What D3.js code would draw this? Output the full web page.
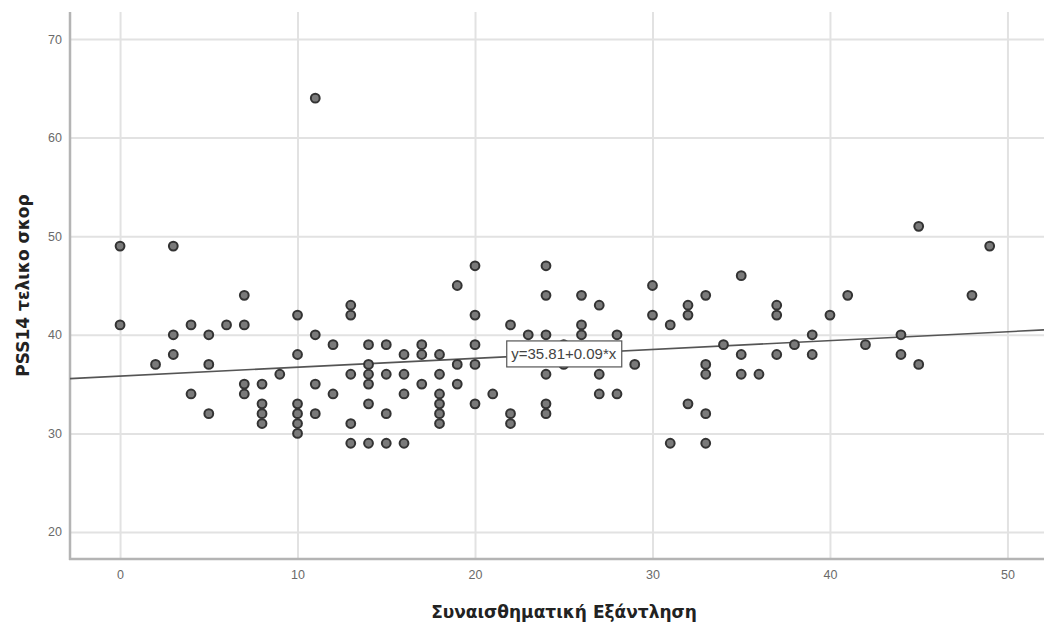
<!DOCTYPE html>
<html>
<head>
<meta charset="utf-8">
<script src="https://cdn.jsdelivr.net/npm/d3@7"></script>
<style>
  body { margin: 0; background: #fff; }
  svg { display: block; font-family: Arial, "Liberation Sans", sans-serif; }
</style>
</head>
<body>
<div id="chart"></div>
<script>
// Συναισθηματική Εξάντληση (x) vs PSS14 (y), one entry per respondent
const exhaustion = [
	0, 0, 2, 3, 3, 3, 4, 4, 5, 5, 5, 6, 7, 7, 7, 7,
	8, 8, 8, 8, 9, 10, 10, 10, 10, 10, 10, 11, 11, 11, 11, 12, 12,
	13, 13, 13, 13, 13, 14, 14, 14, 14, 14, 14, 15, 15, 15, 15,
	16, 16, 16, 16, 17, 17, 17, 18, 18, 18, 18, 18, 18, 19, 19, 19,
	20, 20, 20, 20, 20, 21, 22, 22, 22, 23, 24, 24, 24, 24, 24, 24,
	25, 25, 26, 26, 26, 27, 27, 27, 28, 28, 29, 30, 30, 31, 31,
	32, 32, 32, 33, 33, 33, 33, 33, 34, 35, 35, 35, 36, 37, 37, 37,
	38, 39, 39, 40, 41, 42, 44, 44, 45, 45, 48, 49
];
const pss14 = [
	49, 41, 37, 49, 40, 38, 41, 34, 40, 37, 32, 41, 44, 41, 35, 34,
	35, 33, 32, 31, 36, 42, 38, 33, 32, 31, 30, 64, 40, 35, 32, 39, 34,
	43, 42, 36, 31, 29, 39, 37, 36, 35, 33, 29, 39, 36, 32, 29,
	38, 36, 34, 29, 39, 38, 35, 38, 36, 34, 33, 32, 31, 45, 37, 35,
	47, 42, 39, 37, 33, 34, 41, 32, 31, 40, 47, 44, 40, 36, 33, 32,
	39, 37, 44, 41, 40, 43, 36, 34, 40, 34, 37, 45, 42, 41, 29,
	43, 42, 33, 44, 37, 36, 32, 29, 39, 46, 38, 36, 36, 43, 42, 38,
	39, 40, 38, 42, 44, 39, 40, 38, 51, 37, 44, 49
];
const xTicks = [0, 10, 20, 30, 40, 50];
const yTicks = [20, 30, 40, 50, 60, 70];
const fitIntercept = 35.81;
const fitSlope = 0.09;
const fitLabel = "y=35.81+0.09*x";

{ // start block scope

	const width = 1044, height = 623;
	const plotLeft = 70, plotRight = 1044, plotTop = 12, plotBottom = 559;

	const svg = d3.select("#chart").append("svg")
		.attr("width", width)
		.attr("height", height);

	const x = d3.scaleLinear().domain([-2.82, 52.06]).range([plotLeft, plotRight]);
	const y = d3.scaleLinear().domain([17.26, 72.74]).range([plotBottom, plotTop]);

	// grid lines
	svg.append("g")
		.attr("transform", `translate(0,${plotBottom})`)
		.call(d3.axisBottom(x).tickValues(xTicks).tickSize(-(plotBottom - plotTop)).tickFormat(""))
		.call(g => g.select(".domain").remove())
		.call(g => g.selectAll("line").attr("stroke", "#e2e2e2").attr("stroke-width", 2));
	svg.append("g")
		.attr("transform", `translate(${plotLeft},0)`)
		.call(d3.axisLeft(y).tickValues(yTicks).tickSize(-(plotRight - plotLeft)).tickFormat(""))
		.call(g => g.select(".domain").remove())
		.call(g => g.selectAll("line").attr("stroke", "#e2e2e2").attr("stroke-width", 2));

	// tick labels
	svg.append("g")
		.attr("transform", `translate(0,${plotBottom})`)
		.call(d3.axisBottom(x).tickValues(xTicks).tickSize(0).tickPadding(11))
		.call(g => g.select(".domain").remove())
		.call(g => g.selectAll("text").attr("fill", "#6a6a6a").style("font-size", "12.5px"));
	svg.append("g")
		.attr("transform", `translate(${plotLeft},0)`)
		.call(d3.axisLeft(y).tickValues(yTicks).tickSize(0).tickPadding(8))
		.call(g => g.select(".domain").remove())
		.call(g => g.selectAll("text").attr("fill", "#6a6a6a").style("font-size", "12.5px"));

	// axis frame lines
	svg.append("line")
		.attr("x1", plotLeft).attr("x2", plotLeft).attr("y1", plotTop).attr("y2", plotBottom + 1)
		.attr("stroke", "#b4b4b4").attr("stroke-width", 2.5);
	svg.append("line")
		.attr("x1", plotLeft - 1).attr("x2", plotRight).attr("y1", plotBottom).attr("y2", plotBottom)
		.attr("stroke", "#b4b4b4").attr("stroke-width", 2.5);

	// fit line
	const fit = v => fitIntercept + fitSlope * v;
	const [x0, x1] = x.domain();
	svg.append("line")
		.attr("x1", x(x0)).attr("y1", y(fit(x0)))
		.attr("x2", x(x1)).attr("y2", y(fit(x1)))
		.attr("stroke", "#555").attr("stroke-width", 1.6);

	// points
	svg.append("g")
		.selectAll("circle")
		.data(d3.zip(exhaustion, pss14))
		.join("circle")
		.attr("cx", d => x(d[0]))
		.attr("cy", d => y(d[1]))
		.attr("r", 4.4)
		.attr("fill", "#7a7a7a")
		.attr("stroke", "#333")
		.attr("stroke-width", 2);

	// fit label box
	const lx = x(25), ly = y(fit(25));
	const label = svg.append("g").attr("transform", `translate(${lx},${ly})`);
	label.append("rect")
		.attr("x", -57).attr("y", -13).attr("width", 115).attr("height", 26)
		.attr("fill", "#fff").attr("stroke", "#555").attr("stroke-width", 1.2);
	label.append("text")
		.attr("text-anchor", "middle").attr("dy", "0.36em")
		.attr("fill", "#444").style("font-size", "15px")
		.text(fitLabel);

	// axis titles
	svg.append("text")
		.attr("x", 564).attr("y", 618)
		.attr("text-anchor", "middle")
		.attr("fill", "#222")
		.style("font-family", "'DejaVu Sans', sans-serif")
		.style("font-size", "17px").style("font-weight", "bold")
		.text("Συναισθηματική Εξάντληση");
	svg.append("text")
		.attr("transform", `translate(29,${(plotTop + plotBottom) / 2}) rotate(-90)`)
		.attr("text-anchor", "middle")
		.attr("fill", "#222")
		.style("font-family", "'DejaVu Sans', sans-serif")
		.style("font-size", "17px").style("font-weight", "bold")
		.text("PSS14 τελικο σκορ");

} // end block scope
</script>
</body>
</html>
